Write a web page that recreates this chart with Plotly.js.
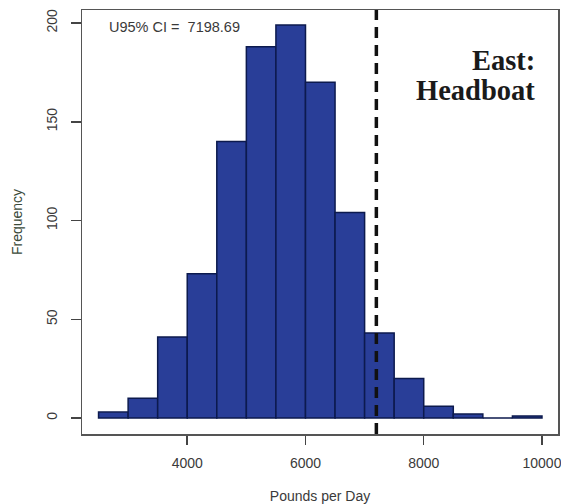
<!DOCTYPE html>
<html>
<head>
<meta charset="utf-8">
<script src="https://cdn.plot.ly/plotly-3.0.1.min.js"></script>
<style>html,body{margin:0;padding:0;background:#fff;}#chart{width:561px;height:504px;}</style>
</head>
<body>
<div id="chart"></div>
<script>
var binLefts = [2500, 3000, 3500, 4000, 4500, 5000, 5500, 6000, 6500, 7000, 7500, 8000, 8500, 9000, 9500];
var counts = [3, 10, 41, 73, 140, 188, 199, 170, 104, 43, 20, 6, 2, 0, 1];
var binWidth = 500;
var ciValue = 7198.69;
var xTicks = [4000, 6000, 8000, 10000];
var yTicks = [0, 50, 100, 150, 200];
var ciLabel = "U95% CI =  7198.69";
var panelLines = ["East:", "Headboat"];

var trace = {
  type: "bar",
  x: binLefts,
  y: counts,
  width: binWidth,
  offset: 0,
  marker: {color: "#293e98", line: {color: "#0c1a4e", width: 1.5}},
  hoverinfo: "x+y"
};

var layout = {
  width: 561, height: 504,
  margin: {l: 82, r: 3, t: 10, b: 70},
  paper_bgcolor: "#fff", plot_bgcolor: "#fff",
  showlegend: false,
  bargap: 0,
  font: {family: "Liberation Sans, Arial, sans-serif", color: "#333"},
  xaxis: {
    range: [2220, 10271],
    tickvals: xTicks,
    ticktext: xTicks.map(String),
    ticks: "outside", ticklen: 9, tickwidth: 1.5, tickcolor: "#444",
    ticklabelstandoff: 7,
    ticklabeloverflow: "allow",
    showline: true, mirror: true, linecolor: "#555", linewidth: 1.5,
    showgrid: false, zeroline: false,
    tickfont: {size: 14, color: "#3a3a3a"},
    title: {text: "Pounds per Day", font: {size: 14, color: "#3a3a3a"}, standoff: 27}
  },
  yaxis: {
    range: [-8.1, 206.6],
    tickvals: yTicks,
    ticktext: yTicks.map(String),
    tickangle: -90,
    ticks: "outside", ticklen: 10, tickwidth: 1.5, tickcolor: "#444",
    ticklabelstandoff: 8,
    showline: true, mirror: true, linecolor: "#555", linewidth: 1.5,
    showgrid: false, zeroline: false,
    tickfont: {size: 14, color: "#3a3a3a"},
    title: {text: "Frequency", font: {size: 14, color: "#3a4a3a"}, standoff: 18}
  },
  shapes: [{
    type: "line", xref: "x", yref: "paper",
    x0: ciValue, x1: ciValue, y0: 0, y1: 1,
    line: {color: "#111", width: 3.5, dash: "11px,7px"}
  }],
  annotations: [
    {xref: "paper", yref: "paper", x: 0.0525, y: 0.96, xanchor: "left", yanchor: "middle",
     text: ciLabel, showarrow: false, font: {size: 14.5, color: "#3a3a3a", family: "Liberation Sans, Arial, sans-serif"}},
    {xref: "paper", yref: "paper", x: 0.955, y: 0.882, xanchor: "right", yanchor: "middle",
     text: "<b>" + panelLines[0] + "</b>", showarrow: false, font: {size: 28.5, color: "#1a1a1a", family: "Liberation Serif, Times New Roman, serif"}},
    {xref: "paper", yref: "paper", x: 0.955, y: 0.811, xanchor: "right", yanchor: "middle",
     text: "<b>" + panelLines[1] + "</b>", showarrow: false, font: {size: 28.5, color: "#1a1a1a", family: "Liberation Serif, Times New Roman, serif"}}
  ]
};

Plotly.newPlot("chart", [trace], layout, {displayModeBar: false, staticPlot: true});
</script>
</body>
</html>
